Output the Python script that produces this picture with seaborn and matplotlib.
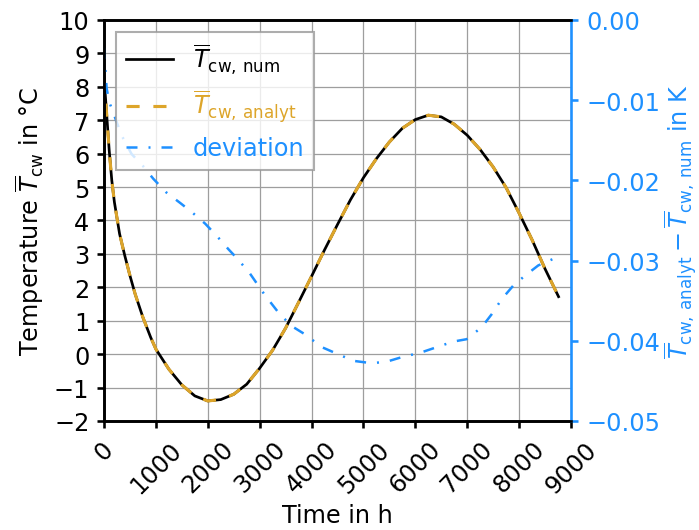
import matplotlib
matplotlib.use("Agg")
import matplotlib.pyplot as plt
import seaborn as sns

# ---- data ----
time_h = [0, 50, 100, 150, 200, 300, 400, 500, 600, 750, 900, 1000, 1250, 1500,
          1750, 2000, 2250, 2500, 2750, 3000, 3250, 3500, 3750, 4000, 4250, 4500,
          4750, 5000, 5250, 5500, 5750, 6000, 6250, 6500, 6750, 7000, 7250, 7500,
          7750, 8000, 8250, 8500, 8760]
T_num = [8.3, 7.2, 6.1, 5.2, 4.55, 3.6, 2.95, 2.35, 1.8, 1.1, 0.5, 0.15, -0.45, -0.92,
         -1.25, -1.40, -1.36, -1.20, -0.90, -0.42, 0.12, 0.78, 1.55, 2.33, 3.12, 3.88,
         4.62, 5.28, 5.85, 6.35, 6.76, 7.02, 7.15, 7.10, 6.88, 6.55, 6.12, 5.60,
         4.98, 4.22, 3.42, 2.55, 1.72]
T_analyt = [8.3, 7.2, 6.1, 5.2, 4.55, 3.6, 2.95, 2.35, 1.8, 1.1, 0.5, 0.15, -0.45, -0.92,
            -1.25, -1.40, -1.36, -1.20, -0.90, -0.42, 0.12, 0.78, 1.55, 2.33, 3.12, 3.88,
            4.62, 5.28, 5.85, 6.35, 6.76, 7.02, 7.15, 7.10, 6.88, 6.55, 6.12, 5.60,
            4.98, 4.22, 3.42, 2.55, 1.72]

dev_time_h = [0, 25, 50, 100, 180, 340, 530, 750, 950, 1200, 1465, 1700, 1950, 2170,
              2400, 2560, 2800, 3100, 3400, 3650, 3874, 4200, 4485, 4805, 5160, 5450,
              5760, 6090, 6410, 6730, 6990, 7280, 7470, 7665, 7890, 8110, 8370, 8690, 8760]
deviation = [-0.0035, -0.0060, -0.0085, -0.0102, -0.0116, -0.0144, -0.0167, -0.0182,
             -0.0198, -0.0215, -0.0228, -0.0240, -0.0254, -0.0269, -0.0286, -0.0297,
             -0.0315, -0.0343, -0.0368, -0.0383, -0.0392, -0.0408, -0.0416, -0.0425,
             -0.0428, -0.0426, -0.0420, -0.0415, -0.0408, -0.0401, -0.0398, -0.0383,
             -0.0367, -0.0348, -0.0331, -0.0319, -0.0306, -0.0297, -0.0295]

x_ticks = [0, 1000, 2000, 3000, 4000, 5000, 6000, 7000, 8000, 9000]
y_left_ticks = [-2, -1, 0, 1, 2, 3, 4, 5, 6, 7, 8, 9, 10]
y_right_ticks = [-0.05, -0.04, -0.03, -0.02, -0.01, 0.0]

label_num = r"$\overline{T}_{\mathrm{cw,\,num}}$"
label_analyt = r"$\overline{T}_{\mathrm{cw,\,analyt}}$"
label_dev = "deviation"

# ---- style ----
plt.rcParams.update({
    "font.family": ["DejaVu Sans"],
    "font.size": 11.5,
    "axes.linewidth": 1.25,
    "xtick.major.width": 1.25,
    "ytick.major.width": 1.25,
    "xtick.major.size": 3.5,
    "ytick.major.size": 3.5,
})

BLACK = "black"
GOLD = "#DDA52A"
BLUE = "#1E90FF"

fig = plt.figure(figsize=(6.99 / 1.5, 5.31 / 1.5), dpi=150)
ax = fig.add_axes([0.1488, 0.2053, 0.6681, 0.7552])
ax2 = ax.twinx()

sns.lineplot(x=time_h, y=T_num, ax=ax, color=BLACK, linewidth=1.3,
             label=label_num, legend=False)
sns.lineplot(x=time_h, y=T_analyt, ax=ax, color=GOLD, linewidth=1.5,
             linestyle=(0, (4.2, 4.4)), label=label_analyt, legend=False)
sns.lineplot(x=dev_time_h, y=deviation, ax=ax2, color=BLUE, linewidth=1.2,
             linestyle=(0, (4.4, 4.4, 0.8, 4.4)), label=label_dev, legend=False)

ax.set_xlim(0, 9000)
ax.set_ylim(-2, 10)
ax2.set_ylim(-0.05, 0.0)
ax.set_xticks(x_ticks)
ax.set_yticks(y_left_ticks)
ax2.set_yticks(y_right_ticks)
ax.tick_params(axis="x", labelrotation=45, pad=4)

ax.grid(True, color="0.62", linewidth=0.6)
ax.set_axisbelow(True)

ax.set_xlabel("Time in h", labelpad=3)
ax.set_ylabel(r"Temperature $\overline{T}_{\mathrm{cw}}$ in °C")
ax2.set_ylabel(r"$\overline{T}_{\mathrm{cw,\,analyt}} - \overline{T}_{\mathrm{cw,\,num}}$ in K",
               color=BLUE, labelpad=1)

ax.spines["right"].set_visible(False)
ax2.spines["right"].set_color(BLUE)
ax2.tick_params(axis="y", colors=BLUE, pad=4)

h1, l1 = ax.get_legend_handles_labels()
h2, l2 = ax2.get_legend_handles_labels()
leg = ax2.legend(h1 + h2, l1 + l2, loc="upper left", labelcolor="linecolor",
                 fancybox=False, edgecolor="0.6", framealpha=0.8)

fig.savefig("out.png", dpi=150)
